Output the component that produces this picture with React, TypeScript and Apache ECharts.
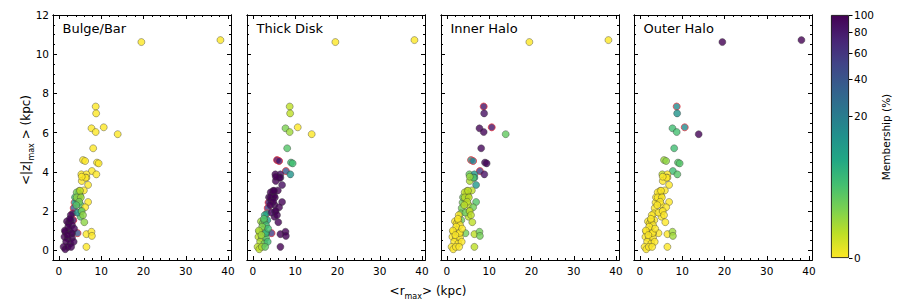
import React, { useEffect, useRef } from 'react';
import * as echarts from 'echarts';

const panelTitles = ['Bulge/Bar', 'Thick Disk', 'Inner Halo', 'Outer Halo'];
const xMajorTicks = [0, 10, 20, 30, 40];
const xMinorTicks = [0, 2, 4, 6, 8, 10, 12, 14, 16, 18, 20, 22, 24, 26, 28, 30, 32, 34, 36, 38, 40];
const yMajorTicks = [0, 2, 4, 6, 8, 10, 12];
const yMinorTicks = [0, 0.5, 1, 1.5, 2, 2.5, 3, 3.5, 4, 4.5, 5, 5.5, 6, 6.5, 7, 7.5, 8, 8.5, 9, 9.5, 10, 10.5, 11, 11.5, 12];
const cbTicks = [0, 20, 40, 60, 80, 100];

// <r_max> (kpc)
const rMax = [19.5, 38.2, 8.7, 8.8, 7.7, 8.7, 10.6, 13.9, 8.1, 5.7, 6.2, 9.0, 9.4, 7.8, 8.85, 5.3, 6.5, 6.5, 5.4, 6.9,
  4.8, 5.9, 4.7, 5.0, 4.6, 4.3, 5.1, 6.9, 6.2, 5.2, 5.1, 6.0, 6.5, 7.7, 7.8, 6.5, 4.4, 3.7, 3.5, 3.3,
  3.4, 4.4, 3.8, 4.2, 1.9, 2.3, 2.7, 3.1, 2.8, 1.5, 2.4, 3.1, 1.3, 2.1, 3.1, 1.7, 2.7, 3.5, 1.1, 1.5,
  2.1, 2.9, 3.0, 2.2, 1.4, 2.0, 3.6, 2.6, 5.0, 4.2, 5.2, 4.8, 5.4, 5.7, 4.1, 6.3, 5.4];
// <|z|_max> (kpc)
const zMax = [10.62, 10.72, 7.33, 6.98, 6.22, 6.03, 6.27, 5.92, 5.2, 4.6, 4.55, 4.47, 4.43, 4.04, 3.87, 3.87, 3.87, 3.7, 3.53, 3.33,
  3.03, 3.05, 2.9, 2.78, 2.65, 2.55, 2.32, 2.46, 2.19, 1.97, 1.71, 1.43, 0.82, 0.94, 0.73, 0.17, 0.87, 2.43, 2.15, 1.88,
  1.53, 1.92, 2.7, 2.95, 1.47, 1.37, 1.5, 1.28, 1.79, 0.94, 1.02, 0.85, 0.68, 0.6, 0.63, 0.43, 0.34, 0.43, 0.17, 0.05,
  0.17, 0.17, 0.88, 1.2, 1.0, 0.77, 1.1, 1.6, 3.03, 2.69, 2.69, 2.47, 2.0, 1.79, 2.3, 3.7, 3.75];
// membership (%) in each component
const bulge = [0, 0, 0, 0, 0, 0, 0, 0, 0, 0, 0, 0, 0, 0, 0, 0, 0, 0, 0, 0,
  0.05, 0, 1.5, 1, 0.8, 0.5, 2, 0, 0, 2.5, 2, 0.5, 0, 0, 0, 0, 42, 12, 40, 85,
  90, 10, 3, 1, 99.7, 99, 98.5, 97, 94, 99.8, 99.5, 96, 99.9, 99.5, 98, 99.8, 99, 97, 99.9, 99.9,
  99.8, 98.5, 96, 99.3, 99.8, 99.7, 97, 98, 0.1, 0.5, 0.3, 1, 1, 0.5, 2, 0, 0];
const thick = [0, 0, 0.1, 0.1, 0.8, 0.3, 0, 0, 2, 90, 80, 3, 3, 40, 12, 98, 90, 90, 99.8, 90,
  99.9, 99.9, 98.4, 98.9, 99.1, 99.4, 97.9, 98, 99, 97.4, 97.9, 99.4, 99.9, 99, 99, 99.9, 57, 87, 59, 14,
  9, 89, 96, 98.9, 0.3, 1, 1.5, 3, 6, 0.2, 0.5, 4, 0.1, 0.5, 2, 0.2, 1, 3, 0.1, 0.1,
  0.2, 1.5, 4, 0.7, 0.2, 0.3, 3, 2, 99.8, 99.4, 99.6, 98.9, 98.9, 99.4, 97.9, 98, 99.6];
const innerHalo = [0, 0, 85, 88, 96, 97, 85, 1.5, 95, 10, 19.5, 95, 95, 57, 86, 1.5, 10, 10, 0.2, 10,
  0.05, 0.1, 0.1, 0.1, 0.1, 0.1, 0.1, 2, 1, 0.1, 0.1, 0.1, 0.1, 1, 1, 0.1, 1, 1, 1, 1,
  1, 1, 1, 0.1, 0, 0, 0, 0, 0, 0, 0, 0, 0, 0, 0, 0, 0, 0, 0, 0,
  0, 0, 0, 0, 0, 0, 0, 0, 0.1, 0.1, 0.1, 0.1, 0.1, 0.1, 0.1, 2, 0.4];
const outerHalo = [100, 100, 15, 12, 3, 2.7, 15, 98.5, 3, 0.3, 0.5, 2, 2, 3, 2, 0.1, 0, 0, 0, 0,
  0, 0, 0, 0, 0, 0, 0, 0, 0, 0, 0, 0, 0, 0.3, 0.3, 0, 0, 0, 0, 0,
  0, 0, 0, 0, 0, 0, 0, 0, 0, 0, 0, 0, 0, 0, 0, 0, 0, 0, 0, 0,
  0, 0, 0, 0, 0, 0, 0, 0, 0, 0, 0, 0, 0, 0, 0, 0, 0];
// ambiguous stars (outlined in red where their membership is significant)
const flagged = [0, 0, 1, 0, 0, 0, 1, 0, 0, 1, 1, 0, 0, 1, 0, 0, 0, 0, 0, 0,
  0, 0, 0, 0, 0, 0, 0, 0, 0, 0, 0, 0, 0, 0, 0, 0, 1, 1, 1, 1,
  1, 0, 0, 0, 0, 0, 0, 0, 0, 0, 0, 0, 0, 0, 0, 0, 0, 0, 0, 0,
  0, 0, 0, 0, 0, 0, 0, 0, 0, 0, 0, 0, 0, 0, 0, 0, 0];

const memberships = [bulge, thick, innerHalo, outerHalo];

const viridis = ['#440154', '#482475', '#414487', '#355f8d', '#2a788e', '#21918c', '#22a884', '#44bf70', '#7ad151', '#bddf26', '#fde725'];

const X_MIN = -1.4, X_MAX = 40.7, Y_MIN = -0.5, Y_MAX = 12;
const FONT = 'DejaVu Sans';
const GRID_LEFTS = [53, 247, 441, 634];
const GRID_W = 178, GRID_TOP = 15, GRID_H = 245;

const toF = (m: number) => Math.cbrt(m / 100);

function buildOption() {
  const grids: any[] = GRID_LEFTS.map((l) => ({ left: l, top: GRID_TOP, width: GRID_W, height: GRID_H }));
  grids.push({ left: 831, top: 15, width: 18, height: 243 });

  const xAxes: any[] = [];
  const yAxes: any[] = [];
  const line = { show: true, onZero: false, lineStyle: { color: '#000', width: 1 } };
  GRID_LEFTS.forEach((_, gi) => {
    const xb = { type: 'value', gridIndex: gi, min: X_MIN, max: X_MAX, splitLine: { show: false }, axisLine: line };
    xAxes.push({ ...xb, position: 'bottom', axisTick: { show: true, inside: true, length: 4, customValues: xMajorTicks, lineStyle: { color: '#000' } },
      axisLabel: { show: true, customValues: xMajorTicks, margin: 5, fontSize: 10.5, color: '#000', fontFamily: FONT } });
    xAxes.push({ ...xb, position: 'top', axisTick: { show: true, inside: true, length: 4, customValues: xMajorTicks, lineStyle: { color: '#000' } }, axisLabel: { show: false } });
    xAxes.push({ ...xb, position: 'bottom', axisTick: { show: true, inside: true, length: 2, customValues: xMinorTicks, lineStyle: { color: '#000' } }, axisLabel: { show: false } });
    xAxes.push({ ...xb, position: 'top', axisTick: { show: true, inside: true, length: 2, customValues: xMinorTicks, lineStyle: { color: '#000' } }, axisLabel: { show: false } });

    const yb = { type: 'value', gridIndex: gi, min: Y_MIN, max: Y_MAX, splitLine: { show: false }, axisLine: line };
    yAxes.push({ ...yb, position: 'left', axisTick: { show: true, inside: true, length: 4, customValues: yMajorTicks, lineStyle: { color: '#000' } },
      axisLabel: { show: gi === 0, customValues: yMajorTicks, margin: 4, fontSize: 10.5, color: '#000', fontFamily: FONT } });
    yAxes.push({ ...yb, position: 'right', axisTick: { show: true, inside: true, length: 4, customValues: yMajorTicks, lineStyle: { color: '#000' } }, axisLabel: { show: false } });
    yAxes.push({ ...yb, position: 'left', axisTick: { show: true, inside: true, length: 2, customValues: yMinorTicks, lineStyle: { color: '#000' } }, axisLabel: { show: false } });
    yAxes.push({ ...yb, position: 'right', axisTick: { show: true, inside: true, length: 2, customValues: yMinorTicks, lineStyle: { color: '#000' } }, axisLabel: { show: false } });
  });

  // colorbar axes
  const cbVals = cbTicks.map((v) => toF(v));
  xAxes.push({ type: 'category', gridIndex: 4, data: [''], show: false });
  yAxes.push({
    type: 'value', gridIndex: 4, min: 0, max: 1, position: 'right', splitLine: { show: false },
    axisLine: { show: false },
    axisTick: { show: true, inside: false, length: 3.5, customValues: cbVals, lineStyle: { color: '#000' } },
    axisLabel: { show: true, customValues: cbVals, margin: 5, fontSize: 10.5, color: '#000', fontFamily: FONT,
      formatter: (v: number) => String(Math.round(Math.pow(v, 3) * 100)) },
  });

  const series: any[] = memberships.map((m, pi) => ({
    type: 'scatter',
    xAxisIndex: pi * 4,
    yAxisIndex: pi * 4,
    symbolSize: 7,
    data: rMax.map((x, i) => ({
      value: [x, zMax[i], toF(m[i])],
      itemStyle: flagged[i] && m[i] >= 10 ? { borderColor: '#e8343f', borderWidth: 0.9 } : { borderColor: '#3a3a3a', borderWidth: 0.5 },
    })),
  }));
  series.push({
    type: 'bar', xAxisIndex: 16, yAxisIndex: 16, barWidth: '100%', data: [1],
    itemStyle: {
      color: new echarts.graphic.LinearGradient(0, 0, 0, 1, viridis.map((c, i) => ({ offset: i / 10, color: c }))),
      borderColor: '#000', borderWidth: 0.8,
    },
    silent: true,
  });

  const graphic: any[] = panelTitles.map((t, i) => ({
    type: 'text', x: GRID_LEFTS[i] + 9.5, y: 28.5,
    style: { text: t, fontSize: 13, fontFamily: FONT, fill: '#000', align: 'left', verticalAlign: 'middle' },
  }));
  const rich = {
    b: { fontSize: 12, fontFamily: FONT, fill: '#000', color: '#000', lineHeight: 18, verticalAlign: 'middle' },
    s: { fontSize: 8, fontFamily: FONT, fill: '#000', color: '#000', lineHeight: 18, verticalAlign: 'bottom' },
  };
  graphic.push({
    type: 'text', x: 428, y: 291,
    style: { text: '{b|<r}{s|max}{b|> (kpc)}', rich, align: 'center', verticalAlign: 'middle', fontFamily: FONT },
  });
  graphic.push({
    type: 'text', x: 26, y: 140, rotation: Math.PI / 2,
    style: { text: '{b|<|z|}{s|max}{b| > (kpc)}', rich, align: 'center', verticalAlign: 'middle', fontFamily: FONT },
  });
  graphic.push({
    type: 'text', x: 886, y: 137, rotation: Math.PI / 2,
    style: { text: 'Membership (%)', fontSize: 10.5, fontFamily: FONT, fill: '#000', align: 'center', verticalAlign: 'middle' },
  });

  return {
    animation: false,
    backgroundColor: '#fff',
    grid: grids,
    xAxis: xAxes,
    yAxis: yAxes,
    visualMap: {
      type: 'continuous', show: false, dimension: 2, min: 0, max: 1, seriesIndex: [0, 1, 2, 3],
      inRange: { color: viridis.slice().reverse() },
    },
    series,
    graphic,
  };
}

export default function App() {
  const ref = useRef<HTMLDivElement>(null);
  useEffect(() => {
    if (!ref.current) return;
    const chart = echarts.init(ref.current, undefined, { renderer: 'svg' });
    chart.setOption(buildOption() as any);
    return () => chart.dispose();
  }, []);
  return <div ref={ref} style={{ position: 'fixed', left: 0, top: 0, width: 913, height: 305 }} />;
}
